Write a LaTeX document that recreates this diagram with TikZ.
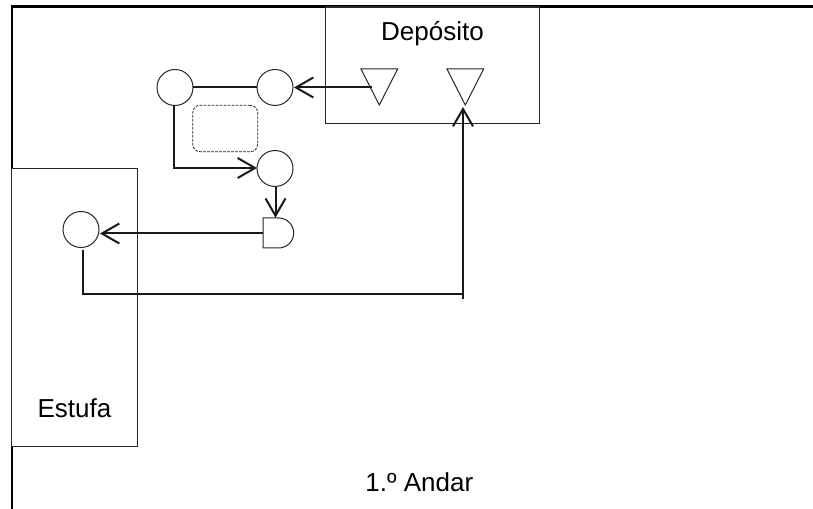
\documentclass[tikz,border=0pt]{standalone}
\usepackage{fontspec}
\setmainfont{Liberation Sans}
\usetikzlibrary{arrows.meta,shapes.geometric}
\tikzset{
  x=0.75pt,y=-0.75pt,
  wall/.style={line width=1.8pt,black},
  room/.style={draw=black!85,line width=0.9pt},
  circ/.style={circle,draw=black!85,line width=0.75pt,minimum size=27pt,inner sep=0pt,fill=white},
  tri/.style={isosceles triangle,isosceles triangle stretches,shape border rotate=-90,draw=black!85,line width=0.75pt,
    minimum width=27.5pt,minimum height=27pt,inner sep=0pt,anchor=lower side},
  conn/.style={line width=1.5pt,black!90},
  tip/.style={conn,-{Straight Barb[length=13pt,width=15pt,line width=1.5pt]}},
  label/.style={font=\fontsize{19.5pt}{22pt}\selectfont,anchor=base,inner sep=0pt},
  hidden/.style={inner sep=0pt,minimum size=0pt}
}
\begin{document}
\begin{tikzpicture}
\useasboundingbox (0,0) rectangle (813,509);
\fill[white] (0,0) rectangle (813,509);
% walls
\coordinate (wallA) at (12,509);
\coordinate (wallB) at (12,6.5);
\coordinate (wallC) at (813,6.5);
\draw[wall] (wallA) -- (wallB) -- (wallC);
% rooms
\node[room,fill=white,anchor=north west,inner sep=0pt,minimum width=160.5pt,minimum height=87.2pt] (deposito) at (325,6.5) {};
\node[room,fill=white,anchor=north west,inner sep=0pt,minimum width=94.3pt,minimum height=208.5pt] (estufa) at (11,168) {};
\node[label] (deplabel) at (432.5,41) {Depósito};
\node[label] (estlabel) at (74.5,417) {Estufa};
\node[label] (andar) at (419.3,491.5) {1.º Andar};
% dashed rounded box
\node[draw=black!85,dashed,dash pattern=on 2pt off 1pt,line width=0.6pt,rounded corners=5.5pt,inner sep=0pt,minimum width=48.7pt,minimum height=34.8pt] (dbox) at (225.2,128.5) {};
% elements
\node[circ] (c1) at (175,87.5) {};
\node[circ] (c2) at (275,87.5) {};
\node[circ] (c3) at (275,168.5) {};
\node[circ] (c4) at (81,229.5) {};
\node[tri] (t1) at (379.3,68.5) {};
\node[tri] (t2) at (465.3,68.5) {};
% gate
\draw[black!85,line width=0.75pt,fill=white] (263,218) -- (278.5,218) .. controls (287,218) and (293.7,224.7) .. (293.7,233) .. controls (293.7,241.3) and (287,248) .. (278.5,248) -- (263,248) -- cycle;
\node[hidden] (gate) at (263,233.5) {};
\node[hidden] (gatetop) at (275.5,218) {};
% connector ends
\coordinate (t1in) at (372,87.5);
\coordinate (c2in) at (294,87.5);
\coordinate (c1r) at (193,87.5);
\coordinate (c2l) at (257,87.5);
\coordinate (c1d) at (173.5,106);
\coordinate (c3in) at (257,168);
\coordinate (c3d) at (275.5,187);
\coordinate (c4in) at (100,233.5);
\coordinate (c4d) at (83,250);
\coordinate (bendR) at (461.7,294.5);
\coordinate (upS) at (463,299);
\coordinate (upE) at (463,107);
% connectors
\draw[tip] (t1in) -- (c2in);
\draw[conn] (c1r) -- (c2l);
\draw[tip] (c1d) |- (c3in);
\draw[tip] (c3d) -- (gatetop);
\draw[tip] (gate) -- (c4in);
\draw[conn] (c4d) |- (bendR);
\draw[tip] (upS) -- (upE);
\end{tikzpicture}
\end{document}
